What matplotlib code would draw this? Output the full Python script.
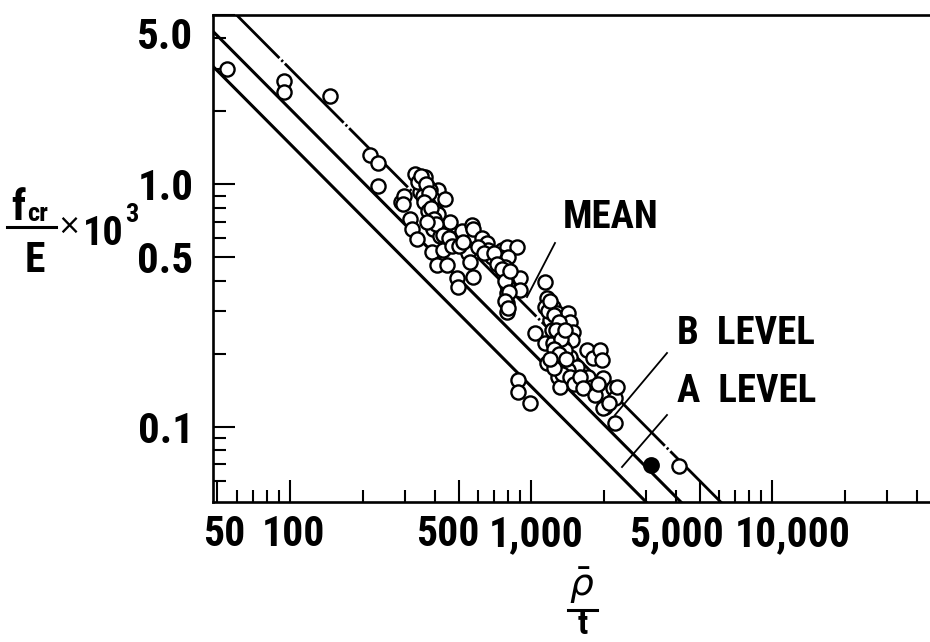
import matplotlib
matplotlib.use('Agg')
import matplotlib.pyplot as plt
from matplotlib import font_manager as fm
from matplotlib.lines import Line2D
from matplotlib.transforms import ScaledTranslation
from matplotlib.ticker import FixedLocator, FixedFormatter, NullFormatter
import numpy as np

# ---------------- data ----------------
x_open = [55, 94, 94, 147, 215, 232, 232, 289, 297, 294, 315, 321, 337,
          330, 356, 370, 346, 411, 392, 440, 381, 388, 392, 461, 419, 388, 431,
          407, 448, 493, 498, 574, 484, 518, 569, 574, 542, 548, 627, 657, 663,
          689, 558, 759, 795, 875, 743, 803, 780, 795, 795, 795, 795, 795, 900,
          900, 340, 363, 381, 356, 374, 400, 411,
          350, 365, 378, 360, 372, 385, 395, 405, 370, 430, 455, 470, 500, 520,
          600, 640, 700, 720, 760, 780, 810, 780, 800, 820,
          1143, 1165, 1143, 1233, 1282, 1424, 1451, 1493, 1480, 1039, 1143, 1233,
          1319, 1358, 1165, 1294, 1358, 1294, 1319, 1451, 1552, 1706, 1807, 1933,
          1970, 1724, 1791, 1970, 2188, 2231, 2028, 2231, 1990, 2274, 1990, 883,
          883, 990, 1384, 1424, 1258, 1199, 1222,
          1180, 1200, 1250, 1300, 1270, 1330, 1380, 1250, 1300, 1400, 1350, 1450,
          1500, 1600, 1650, 1850, 1900, 2100, 1250, 1200,
          4113]
y_open = [2.99, 2.66, 2.40, 2.31, 1.32, 1.23, 0.99, 0.85, 0.90, 0.83, 0.717, 0.652, 0.593,
          1.10, 1.03, 0.981, 0.927, 0.953, 0.867, 0.867, 0.738, 0.697, 0.652, 0.703, 0.610, 0.529, 0.539,
          0.467, 0.467, 0.413, 0.379, 0.417, 0.593, 0.640, 0.683, 0.652, 0.549, 0.524, 0.604, 0.576, 0.539,
          0.504, 0.481, 0.539, 0.554, 0.554, 0.504, 0.504, 0.458, 0.417, 0.386, 0.358, 0.325, 0.299, 0.413,
          0.368, 1.02, 1.07, 0.953, 0.90, 0.827, 0.788, 0.752,
          1.08, 1.00, 0.92, 0.85, 0.78, 0.80, 0.72, 0.69, 0.70, 0.62, 0.60, 0.56, 0.56, 0.58,
          0.55, 0.52, 0.52, 0.47, 0.45, 0.40, 0.36, 0.33, 0.31, 0.44,
          0.397, 0.341, 0.313, 0.313, 0.296, 0.296, 0.272, 0.247, 0.229, 0.245, 0.222, 0.222,
          0.240, 0.214, 0.184, 0.195, 0.180, 0.161, 0.146, 0.195, 0.177, 0.208, 0.193, 0.208,
          0.189, 0.161, 0.146, 0.1395, 0.145, 0.132, 0.121, 0.104, 0.159, 0.146, 0.120, 0.156,
          0.1395, 0.1256, 0.208, 0.172, 0.264, 0.277, 0.252,
          0.30, 0.33, 0.29, 0.27, 0.25, 0.23, 0.25, 0.21, 0.20, 0.19, 0.165, 0.16,
          0.15, 0.16, 0.145, 0.135, 0.15, 0.125, 0.175, 0.19,
          0.069]
x_filled = [3150]
y_filled = [0.0697]

line_names = ['MEAN', 'B LEVEL', 'A LEVEL']
line_consts = [300, 205, 147]          # (f_cr/E)*1e3 = K / (rho/t)

x_major = [50, 100, 500, 1000, 5000, 10000]
x_major_labels = ['50', '100', '500', '1,000', '5,000', '10,000']
x_label_shift_px = [7, 3, -11, 5, -23, 21]
x_minor = [60, 70, 80, 90, 200, 300, 400, 600, 700, 800, 900, 2000, 3000, 4000,
           6000, 7000, 8000, 9000, 20000, 30000, 40000]
y_major = [0.1, 0.5, 1.0, 5.0]
y_major_labels = ['0.1', '0.5', '1.0', '5.0']
y_minor = [0.06, 0.07, 0.08, 0.09, 0.2, 0.3, 0.4, 0.6, 0.7, 0.8, 0.9, 2, 3, 4]

# ---------------- font ----------------
def pick_font():
    prefs = [('oswald', 'bold'), ('robotocondensed', 'bold'), ('liberationsansnarrow', 'bold'),
             ('archivonarrow', 'bold'), ('narrow', 'bold'), ('condensed', 'bold')]
    files = []
    for f in fm.fontManager.ttflist:
        fn = f.fname.lower().replace('-', '').replace('_', '').replace(' ', '')
        base = fn.rsplit('/', 1)[-1]
        if 'italic' in base or 'oblique' in base or '[' in base:
            continue
        files.append((base, f.fname))
    for key, w in prefs:
        hits = [p for b, p in files if key in b and w in b and 'semi' not in b and 'extra' not in b]
        if hits:
            return sorted(hits)[0]
    return None

font_path = pick_font()
def fp(size):
    if font_path:
        return fm.FontProperties(fname=font_path, size=size)
    return fm.FontProperties(family='DejaVu Sans', weight='bold', size=size)

W, H = 930, 642
fig = plt.figure(figsize=(W / 100, H / 100), dpi=100)
ax = fig.add_axes([213 / W, 1 - 502 / H, 717 / W, 487 / H])
ax.set_xscale('log')
ax.set_yscale('log')
ax.set_xlim(47.9, 45200)
ax.set_ylim(0.049, 5.0)

# lines
xx = np.array([30.0, 60000.0])
for name, k in zip(line_names, line_consts):
    if name == 'MEAN':
        ax.plot(xx, k / xx, color='black', lw=2.0, dashes=(30, 1.0, 0.8, 1.0),
                solid_capstyle='butt')
    else:
        ax.plot(xx, k / xx, color='black', lw=2.2)

ax.plot(x_open, y_open, ls='none', marker='o', ms=10.2, mfc='white', mec='black', mew=1.7)
ax.plot(x_filled, y_filled, ls='none', marker='o', ms=10.5, mfc='black', mec='black', mew=1.6)

# spines
for s in ['left', 'bottom', 'top']:
    ax.spines[s].set_linewidth(1.9)
ax.spines['right'].set_visible(False)

ax.xaxis.set_major_locator(FixedLocator(x_major))
ax.xaxis.set_major_formatter(FixedFormatter(x_major_labels))
ax.xaxis.set_minor_locator(FixedLocator(x_minor))
ax.xaxis.set_minor_formatter(NullFormatter())
ax.yaxis.set_major_locator(FixedLocator(y_major))
ax.yaxis.set_major_formatter(FixedFormatter(y_major_labels))
ax.yaxis.set_minor_locator(FixedLocator(y_minor))
ax.yaxis.set_minor_formatter(NullFormatter())

ax.tick_params(which='major', direction='in', length=16, width=1.5, top=False, right=False)
ax.tick_params(which='minor', direction='in', length=9, width=1.5, top=False, right=False)
ax.tick_params(axis='x', which='major', pad=9)
ax.tick_params(axis='y', which='major', pad=14)

fig.canvas.draw()
for lab, sh in zip(ax.get_xticklabels(), x_label_shift_px):
    lab.set_fontproperties(fp(30))
    lab.set_transform(lab.get_transform() + ScaledTranslation(sh / 100, 0, fig.dpi_scale_trans))
for lab in ax.get_yticklabels():
    lab.set_fontproperties(fp(31))
    if lab.get_text() == '5.0':
        lab.set_transform(lab.get_transform() + ScaledTranslation(0, -18 / 100, fig.dpi_scale_trans))

# annotations (axes fraction)
def axf(px, py):
    return ((px - 213) / 717, (502 - py) / 487)

for (p0, p1) in [((555, 243), (527, 297)), ((667, 353), (615, 415)), ((667, 415), (622, 467))]:
    a, b = axf(*p0), axf(*p1)
    ax.plot([a[0], b[0]], [a[1], b[1]], transform=ax.transAxes, color='black', lw=1.3,
            clip_on=False)

tx, ty = axf(563, 218)
ax.text(tx, ty, 'MEAN', transform=ax.transAxes, ha='left', va='center', fontproperties=fp(28))
tx, ty = axf(677, 333)
ax.text(tx, ty, 'B  LEVEL', transform=ax.transAxes, ha='left', va='center', fontproperties=fp(28))
tx, ty = axf(677, 391)
ax.text(tx, ty, 'A  LEVEL', transform=ax.transAxes, ha='left', va='center', fontproperties=fp(28))

# y label (built from pieces)
def ff(px, py):
    return (px / W, 1 - py / H)

fig.text(*ff(11, 220), 'f', ha='left', va='baseline', fontproperties=fp(31))
fig.text(*ff(27, 221), 'cr', ha='left', va='baseline', fontproperties=fp(19))
fig.add_artist(Line2D([7 / W, 56 / W], [1 - 227 / H, 1 - 227 / H], color='black', lw=2.2))
fig.text(*ff(35, 272), 'E', ha='center', va='baseline', fontproperties=fp(30))
fig.text(*ff(69, 226), '×', ha='center', va='center', family='DejaVu Sans', fontsize=20)
t10 = fig.text(*ff(83, 245), '10', ha='left', va='baseline', fontproperties=fp(29))
renderer = fig.canvas.get_renderer()
x10_right = t10.get_window_extent(renderer).x1
fig.text((x10_right + 1) / W, 1 - 222 / H, '3', ha='left', va='baseline', fontproperties=fp(19))

# x label
fig.text(*ff(582, 596), r'$\bar{\rho}$', ha='center', va='baseline', fontsize=27)
fig.add_artist(Line2D([568 / W, 597 / W], [1 - 610 / H, 1 - 610 / H], color='black', lw=2.2))
fig.text(*ff(583, 634), 't', ha='center', va='baseline', fontproperties=fp(24))

fig.savefig('out.png', dpi=100)
